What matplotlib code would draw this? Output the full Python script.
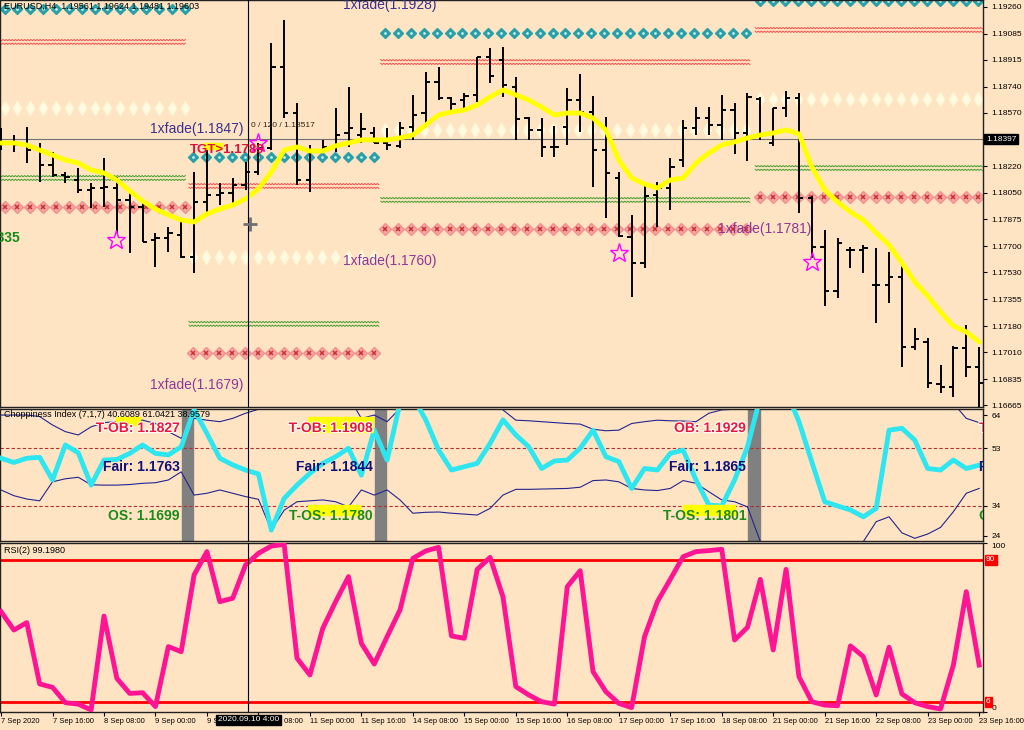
# EURUSD H4 - gráfico estilo MT4 con Choppiness y RSI
import numpy as np
import matplotlib.pyplot as plt
import matplotlib.patheffects as pe
from matplotlib.patches import Rectangle

# Datos (velas H4)
bar_open = [1.18393, 1.18373, 1.18360, 1.18327, 1.18230, 1.18165, 1.18132, 1.18067, 1.18080, 1.18080,
            1.18002, 1.17956, 1.17742, 1.17755, 1.17774, 1.17631, 1.17989, 1.18035, 1.18048, 1.18100,
            1.18184, 1.18341, 1.18868, 1.18568, 1.18132, 1.18327, 1.18347, 1.18438, 1.18425, 1.18438,
            1.18373, 1.18354, 1.18477, 1.18568, 1.18770, 1.18666, 1.18653, 1.18686, 1.18933, 1.18913,
            1.18738, 1.18536, 1.18458, 1.18347, 1.18477, 1.18653, 1.18575, 1.18327, 1.18145, 1.17761,
            1.17592, 1.18035, 1.18080, 1.18262, 1.18471, 1.18536, 1.18490, 1.18588, 1.18438, 1.18660,
            1.18373, 1.18601, 1.18666, 1.18015, 1.17696, 1.17410, 1.17676, 1.17676, 1.17449, 1.17449,
            1.17501, 1.17045, 1.17078, 1.16804, 1.16785, 1.17039, 1.16915]
bar_high = [1.18471, 1.18425, 1.18477, 1.18373, 1.18314, 1.18184, 1.18210, 1.18113, 1.18275, 1.18152,
            1.18054, 1.17989, 1.17787, 1.17826, 1.17872, 1.18184, 1.18327, 1.18113, 1.18145, 1.18249,
            1.18373, 1.19024, 1.19174, 1.18633, 1.18360, 1.18393, 1.18601, 1.18738, 1.18568, 1.18477,
            1.18471, 1.18510, 1.18686, 1.18835, 1.18868, 1.18673, 1.18699, 1.18933, 1.18992, 1.18998,
            1.18803, 1.18542, 1.18536, 1.18484, 1.18731, 1.18822, 1.18679, 1.18542, 1.18184, 1.17904,
            1.18119, 1.18119, 1.18275, 1.18523, 1.18607, 1.18607, 1.18686, 1.18633, 1.18699, 1.18673,
            1.18601, 1.18712, 1.18699, 1.18028, 1.17807, 1.17755, 1.17696, 1.17709, 1.17690, 1.17663,
            1.17611, 1.17169, 1.17104, 1.16928, 1.17052, 1.17188, 1.17045]
bar_low = [1.18327, 1.18314, 1.18243, 1.18119, 1.18152, 1.18113, 1.18048, 1.17950, 1.17956, 1.17787,
           1.17657, 1.17729, 1.17566, 1.17663, 1.17624, 1.17527, 1.17917, 1.17969, 1.17956, 1.18067,
           1.18165, 1.18327, 1.18536, 1.18100, 1.18054, 1.18308, 1.18314, 1.18347, 1.18373, 1.18373,
           1.18327, 1.18341, 1.18393, 1.18503, 1.18653, 1.18588, 1.18588, 1.18640, 1.18764, 1.18673,
           1.18393, 1.18393, 1.18282, 1.18282, 1.18360, 1.18445, 1.18087, 1.17885, 1.17761, 1.17371,
           1.17559, 1.17826, 1.17937, 1.18217, 1.18425, 1.18425, 1.18393, 1.18301, 1.18256, 1.18393,
           1.18354, 1.18542, 1.17917, 1.17624, 1.17312, 1.17364, 1.17559, 1.17527, 1.17201, 1.17331,
           1.16915, 1.17025, 1.16778, 1.16746, 1.16720, 1.16850, 1.16654]
bar_close = [1.18373, 1.18360, 1.18327, 1.18230, 1.18165, 1.18152, 1.18067, 1.18080, 1.18087, 1.18002,
             1.17956, 1.17729, 1.17755, 1.17787, 1.17631, 1.17989, 1.18035, 1.18048, 1.18100, 1.18184,
             1.18341, 1.18868, 1.18568, 1.18132, 1.18327, 1.18347, 1.18425, 1.18471, 1.18464, 1.18373,
             1.18360, 1.18471, 1.18555, 1.18770, 1.18666, 1.18627, 1.18679, 1.18933, 1.18809, 1.18751,
             1.18529, 1.18458, 1.18347, 1.18347, 1.18653, 1.18575, 1.18327, 1.18178, 1.17768, 1.17592,
             1.18028, 1.18080, 1.18217, 1.18471, 1.18536, 1.18490, 1.18588, 1.18438, 1.18673, 1.18425,
             1.18601, 1.18666, 1.18015, 1.17696, 1.17410, 1.17722, 1.17676, 1.17690, 1.17449, 1.17501,
             1.17045, 1.17097, 1.16811, 1.16785, 1.17039, 1.16915, 1.16811]
ma_line = [1.18373, 1.18373, 1.18360, 1.18327, 1.18295, 1.18262, 1.18243, 1.18197, 1.18178, 1.18132,
           1.18061, 1.17995, 1.17943, 1.17904, 1.17872, 1.17859, 1.17911, 1.17943, 1.17969, 1.18009,
           1.18074, 1.18184, 1.18327, 1.18347, 1.18321, 1.18321, 1.18354, 1.18373, 1.18393, 1.18393,
           1.18393, 1.18406, 1.18425, 1.18490, 1.18555, 1.18575, 1.18588, 1.18620, 1.18673, 1.18718,
           1.18686, 1.18653, 1.18607, 1.18555, 1.18568, 1.18568, 1.18536, 1.18458, 1.18262, 1.18145,
           1.18106, 1.18080, 1.18132, 1.18145, 1.18243, 1.18308, 1.18360, 1.18380, 1.18406, 1.18425,
           1.18438, 1.18458, 1.18432, 1.18217, 1.18067, 1.17989, 1.17924, 1.17872, 1.17787, 1.17709,
           1.17592, 1.17468, 1.17377, 1.17273, 1.17182, 1.17143, 1.17078]

# Choppiness index y bandas
chop = [49.7, 48.3, 49.7, 50.0, 42.5, 54.1, 51.5, 40.8, 49.1, 49.3,
        51.3, 54.1, 51.3, 50.8, 53.5, 65.7, 57.9, 49.7, 47.5, 45.8,
        44.5, 25.9, 36.4, 40.8, 44.7, 48.0, 50.2, 53.0, 44.1, 59.0,
        49.1, 68.0, 70.0, 62.4, 52.4, 45.8, 46.9, 48.0, 54.6, 62.4,
        57.4, 53.5, 46.3, 48.8, 49.1, 53.0, 59.0, 50.2, 48.6, 39.7,
        46.3, 45.8, 51.3, 52.4, 42.5, 34.2, 33.9, 42.5, 53.5, 70.0,
        75.0, 72.0, 61.8, 48.5, 35.3, 33.9, 32.6, 30.3, 33.1, 59.0,
        59.6, 55.7, 46.3, 45.8, 49.1, 46.3, 47.4]
chop_upper = [64.0, 64.0, 64.0, 63.5, 60.7, 58.5, 57.4, 60.1, 61.5, 61.8,
              62.1, 62.3, 61.2, 58.5, 56.3, 62.9, 62.3, 61.8, 62.9, 64.6,
              65.9, 67.9, 72.0, 72.0, 72.0, 72.0, 72.0, 70.0, 62.9, 64.0,
              61.8, 66.2, 72.0, 72.0, 72.0, 72.0, 72.0, 72.0, 70.0, 65.7,
              62.3, 62.1, 61.8, 61.5, 61.2, 61.0, 59.3, 58.8, 59.0, 61.2,
              61.8, 62.3, 62.1, 62.0, 61.8, 64.6, 65.7, 65.9, 70.0, 72.0,
              72.0, 72.0, 72.0, 72.0, 72.0, 72.0, 72.0, 72.0, 72.0, 72.0,
              72.0, 72.0, 72.0, 70.0, 67.9, 62.9, 61.5]
chop_lower = [39.2, 37.3, 36.2, 35.6, 41.9, 42.9, 43.4, 40.9, 40.8, 40.8,
              41.0, 41.4, 41.6, 42.5, 45.2, 37.5, 38.1, 39.2, 38.1, 37.0,
              36.1, 25.9, 32.5, 35.3, 35.6, 35.9, 35.3, 33.6, 39.2, 37.5,
              39.2, 35.9, 31.5, 31.8, 31.9, 31.5, 31.2, 30.9, 33.1, 37.5,
              39.4, 39.4, 39.5, 39.6, 39.7, 40.1, 42.3, 42.5, 41.9, 39.7,
              39.2, 39.0, 39.7, 42.3, 41.4, 38.6, 35.9, 35.3, 33.6, 22.1,
              20.0, 18.0, 17.0, 16.0, 16.0, 17.0, 19.0, 22.1, 28.7, 30.3,
              25.0, 23.2, 24.6, 26.8, 32.0, 38.1, 39.7]

# RSI(2)
rsi = [59.4, 48.5, 52.9, 16.6, 14.6, 5.5, 4.7, 1.2, 56.8, 19.9,
       11.0, 11.4, 3.2, 38.7, 35.7, 81.1, 94.9, 65.3, 67.3, 87.0,
       93.9, 98.2, 99.2, 31.8, 21.9, 49.5, 65.3, 80.1, 40.6, 28.4,
       44.6, 60.4, 90.9, 95.3, 97.4, 45.0, 43.6, 84.4, 91.5, 68.2,
       15.0, 10.1, 6.1, 4.7, 74.2, 83.6, 23.9, 12.0, 5.1, 2.6,
       44.6, 65.3, 78.5, 91.9, 94.9, 95.5, 96.3, 42.6, 50.1, 78.5,
       36.7, 84.4, 20.9, 6.1, 4.1, 3.7, 39.1, 32.8, 10.1, 38.3,
       10.7, 5.5, 3.2, 1.8, 27.8, 71.2, 27.8]

# Niveles por sesión (R2, R1, pivot, S1, S2)
seg_start = [-0.08, 14.6, 29.5, 58.6]
seg_end = [14.4, 29.4, 58.3, 76.3]
lvl_r2 = [1.19245, 1.18282, 1.19089, 1.19297]
lvl_r1 = [1.19031, 1.18093, 1.18900, 1.19109]
lvl_pp = [1.18601, 1.17631, 1.18458, 1.18660]
lvl_s1 = [1.18145, 1.17195, 1.18002, 1.18210]
lvl_s2 = [1.17956, 1.17006, 1.17813, 1.18022]
session_breaks = [14.5, 29.5, 58.5]

ob_txt = ['T-OB: 1.1827', 'T-OB: 1.1908', 'OB: 1.1929', 'T-OB: 1.1950']
fair_txt = ['Fair: 1.1763', 'Fair: 1.1844', 'Fair: 1.1865', 'Fair: 1.1886']
os_txt = ['OS: 1.1699', 'T-OS: 1.1780', 'T-OS: 1.1801', 'OS: 1.1822']

fade_txt = ['1xfade(1.1928)', '1xfade(1.1847)', '1xfade(1.1760)', '1xfade(1.1679)', '1xfade(1.1781)']
fade_x = [26.6, 11.6, 26.6, 11.6, 55.7]
fade_y = [1.19270, 1.18464, 1.17605, 1.16797, 1.17813]

star_x = [8.9, 20.0, 48.0, 63.0]
star_y = [1.17742, 1.18373, 1.17657, 1.17598]

price_ticks = [1.19260, 1.19085, 1.18915, 1.18740, 1.18570, 1.18220, 1.18050, 1.17875,
               1.17700, 1.17530, 1.17355, 1.17180, 1.17010, 1.16835, 1.16665]
time_labels = ['7 Sep 2020', '7 Sep 16:00', '8 Sep 08:00', '9 Sep 00:00', '9 Sep 16:00',
               '10 Sep 08:00', '11 Sep 00:00', '11 Sep 16:00', '14 Sep 08:00', '15 Sep 00:00',
               '15 Sep 16:00', '16 Sep 08:00', '17 Sep 00:00', '17 Sep 16:00', '18 Sep 08:00',
               '21 Sep 00:00', '21 Sep 16:00', '22 Sep 08:00', '23 Sep 00:00', '23 Sep 16:00']

# Config
bg = '#FFE4C4'
bold_font = ['Liberation Sans', 'DejaVu Sans']
cross_x = 19.22
cur_price = 1.18397
xlim = (-0.08, 76.3)
plt.rcParams['font.family'] = ['Liberation Sans', 'DejaVu Sans']

fig = plt.figure(figsize=(10.24, 7.30), dpi=100, facecolor=bg)
ax = fig.add_axes([0.0, 1 - 407 / 730, 983 / 1024, 407 / 730])
ax2 = fig.add_axes([0.0, 1 - 541 / 730, 983 / 1024, 132 / 730])
ax3 = fig.add_axes([0.0, 1 - 712 / 730, 983 / 1024, 169 / 730])

for a in (ax, ax2, ax3):
    a.set_facecolor(bg)
    a.set_xlim(xlim)
    a.yaxis.tick_right()
    a.tick_params(axis='y', labelsize=6, length=3, pad=3, direction='out')
    for s in a.spines.values():
        s.set_color('#202020')
        s.set_linewidth(1.0)
    a.axvline(cross_x, color='black', lw=0.8, zorder=6)

idx = np.arange(len(bar_open))


def wavy(a, x0, x1, y, color):
    xs = np.arange(x0, x1, 0.12)
    zz = np.where(np.arange(len(xs)) % 2 == 0, 1, -1) * 0.00004
    for off in (-0.00012, 0.00012):
        a.plot(xs, y + off + zz, color=color, lw=0.7, zorder=1)


def row(a, x0, x1, y, **kw):
    xs = np.arange(x0 + 0.35, x1, 1.0)
    a.plot(xs, np.full(len(xs), y), ls='none', zorder=1, **kw)


# Panel principal
for k in range(len(seg_start)):
    x0, x1 = seg_start[k], seg_end[k]
    row(ax, x0, x1, lvl_r2[k], marker='D', ms=5.5, mfc='#2A9FA8', mec='#2A9FA8')
    row(ax, x0, x1, lvl_r2[k], marker='.', ms=2, color='#BFEFF0')
    wavy(ax, x0, x1, lvl_r1[k], '#FF4A4A')
    row(ax, x0, x1, lvl_pp[k], marker='d', ms=7.5, mfc='#FFFBE2', mec='#FFF8D6')
    wavy(ax, x0, x1, lvl_s1[k], '#3C9E2A')
    row(ax, x0, x1, lvl_s2[k], marker='D', ms=6, mfc='#F4A6A0', mec='#F29090')
    row(ax, x0, x1, lvl_s2[k], marker='x', ms=3.5, mew=1.1, color='#C83030')

ax.axhline(cur_price, color='#707070', lw=0.8, zorder=2)
ax.vlines(idx, bar_low, bar_high, color='black', lw=1.4, zorder=3)
ax.hlines(bar_open, idx - 0.33, idx, color='black', lw=1.4, zorder=3)
ax.hlines(bar_close, idx, idx + 0.33, color='black', lw=1.4, zorder=3)
ax.plot(idx, ma_line, color='#FFFF00', lw=3.5, solid_capstyle='round', zorder=4)
ax.plot(star_x, star_y, ls='none', marker='*', ms=14, mfc='none', mec='#FF00FF', mew=1.0, zorder=5)

for k in range(len(fade_txt)):
    col = '#3A2F8E' if k < 2 else '#8E3796'
    ax.text(fade_x[k], fade_y[k], fade_txt[k], color=col, fontsize=10, ha='left', va='center', zorder=7)

ax.add_patch(Rectangle((15.8, 1.18334), 1.4, 0.00042, color='#FFFF00', zorder=6))
ax.text(14.7, 1.18327, 'TGT>1.1789', color='#E0103C', fontsize=9.5, fontweight='bold',
        family=bold_font, ha='left', va='center', zorder=7)
ax.text(1.5, 1.17755, '1.1835', color='#1A8A1A', fontsize=10, fontweight='bold',
        family=bold_font, ha='right', va='center', clip_on=True, zorder=7)
ax.text(19.4, 1.18484, '0 / 120 / 1.18517', fontsize=6, color='#302010', ha='left', va='center', zorder=7)
ax.text(0.004, 0.985, 'EURUSD,H4  1.19561 1.19624 1.19481 1.19603', transform=ax.transAxes,
        fontsize=6.5, ha='left', va='center', zorder=7)
ax.plot([19.35], [1.17846], marker='+', ms=10, mew=2, color='#707070', zorder=7)

ax.set_ylim(1.16654, 1.19304)
ax.set_yticks(price_ticks)
ax.set_yticklabels(['%.5f' % p for p in price_ticks])
ax.set_xticks([])
ax.text(1.003, cur_price, '%.5f' % cur_price, transform=ax.get_yaxis_transform(), ha='left', va='center',
        fontsize=6, color='white', bbox=dict(boxstyle='square,pad=0.2', fc='black', ec='black'), clip_on=False)

# Panel Choppiness
for b in session_breaks:
    ax2.axvspan(b - 0.45, b + 0.45, color='#808080', zorder=1)
ax2.axhline(53, color='#B03030', lw=0.8, ls=(0, (3, 2)), zorder=1)
ax2.axhline(34, color='#B03030', lw=0.8, ls=(0, (3, 2)), zorder=1)
ax2.plot(idx, chop_upper, color='#23238F', lw=0.8, zorder=2)
ax2.plot(idx, chop_lower, color='#23238F', lw=0.8, zorder=2)
ax2.plot(idx, chop, color='#2EE6F0', lw=3.5, zorder=3)

for (x0, x1, y0, y1) in [(8.9, 10.8, 60.7, 63.3), (23.85, 28.9, 58.4, 63.3),
                         (23.85, 27.9, 30.9, 34.2), (53.0, 57.0, 30.9, 34.2)]:
    ax2.add_patch(Rectangle((x0, y0), x1 - x0, y1 - y0, color='#FFFF00', zorder=4))

halo = [pe.withStroke(linewidth=1.5, foreground='white')]
for k in range(4):
    if k < 3:
        xt, ha = session_breaks[k] - 0.6, 'right'
    else:
        xt, ha = 76.0, 'left'
    ax2.text(xt, 59.7, ob_txt[k], color='#E8173C', fontsize=10, fontweight='bold', family=bold_font,
             ha=ha, va='center', clip_on=True, path_effects=halo, zorder=5)
    ax2.text(xt, 46.8, fair_txt[k], color='#10107A', fontsize=10, fontweight='bold', family=bold_font,
             ha=ha, va='center', clip_on=True, zorder=5)
    ax2.text(xt, 30.6, os_txt[k], color='#1B8A1B', fontsize=10, fontweight='bold', family=bold_font,
             ha=ha, va='center', clip_on=True, zorder=5)

ax2.text(0.004, 0.955, 'Choppiness Index (7,1,7) 40.6089 61.0421 38.9579', transform=ax2.transAxes,
         fontsize=6.5, ha='left', va='center', zorder=7)
ax2.set_ylim(22.3, 66.0)
ax2.set_yticks([64, 53, 34, 24])
ax2.set_xticks([])

# Panel RSI
ax3.axhline(90, color='#FF0000', lw=2, zorder=1)
ax3.axhline(6, color='#FF0000', lw=2, zorder=1)
ax3.plot(idx, rsi, color='#FF1493', lw=3.5, zorder=3)
ax3.text(0.004, 0.955, 'RSI(2) 99.1980', transform=ax3.transAxes, fontsize=6.5, ha='left', va='center')
ax3.set_ylim(0, 100)
ax3.set_yticks([100, 0])
ax3.set_yticklabels(['100', '0'])
ax3.get_yticklabels()[0].set_va('top')
ax3.get_yticklabels()[1].set_va('bottom')
for lv in (90, 6):
    ax3.text(1.003, lv, str(lv), transform=ax3.get_yaxis_transform(), ha='left', va='center', fontsize=6,
             color='white', bbox=dict(boxstyle='square,pad=0.15', fc='#FF0000', ec='#FF0000'), clip_on=False)

ax3.set_xticks(range(0, 77, 4))
ax3.set_xticklabels(time_labels, ha='left', fontsize=5.4)
ax3.tick_params(axis='x', length=3, pad=1)
ax3.text(cross_x, -0.025, '2020.09.10 4:00', transform=ax3.get_xaxis_transform(), ha='center', va='top',
         fontsize=6, color='white', bbox=dict(boxstyle='square,pad=0.2', fc='black', ec='black'), zorder=8)

fig.savefig('out.png', dpi=100, facecolor=bg)
